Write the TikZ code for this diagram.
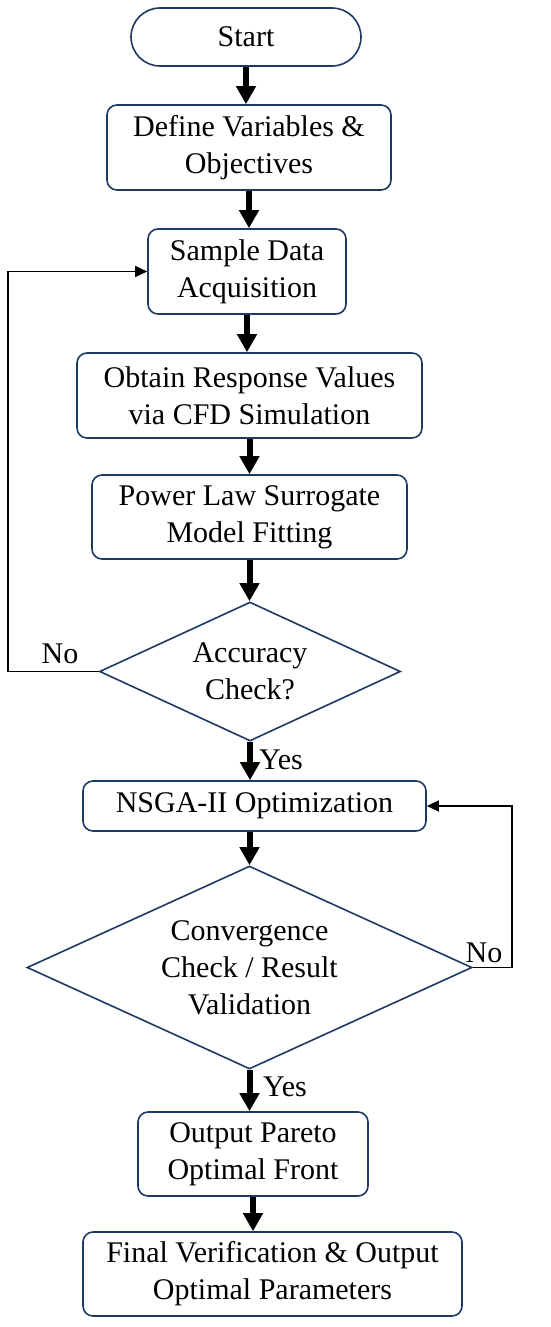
\documentclass[tikz,border=0pt]{standalone}
\usepackage{fontspec}
\setmainfont{Liberation Serif}
\usetikzlibrary{shapes.geometric,arrows.meta}
\definecolor{navy}{HTML}{1F3864}
\begin{document}
\begin{tikzpicture}[x=1pt,y=-1pt, font=\fontsize{30}{37}\selectfont,
 box/.style={draw=navy, line width=1.6pt, rounded corners=10pt, align=center, inner sep=0pt},
 dec/.style={draw=navy, line width=1.6pt, shape=diamond, align=center, inner sep=0pt},
 big/.style={line width=6pt, -{Triangle[width=19pt,length=18pt]}},
 thin/.style={line width=1.3pt, -{Triangle[width=11pt,length=12pt]}}]
\useasboundingbox (0,0) rectangle (550,1327);
\node[box, rounded corners=29pt, minimum width=230pt, minimum height=58pt] (start) at (246,37) {Start};
\node[box, minimum width=284pt, minimum height=85pt] (def) at (249,147.5) {Define Variables \&\\Objectives};
\node[box, minimum width=198pt, minimum height=85pt] (sample) at (247,271.5) {Sample Data\\Acquisition};
\node[box, minimum width=345pt, minimum height=85pt] (obtain) at (249.5,395.5) {Obtain Response Values\\via CFD Simulation};
\node[box, minimum width=315pt, minimum height=84pt] (power) at (249.5,517) {Power Law Surrogate\\Model Fitting};
\node[dec, shape aspect=2.17, minimum width=301pt, minimum height=139pt] (acc) at (250,671.5) {Accuracy\\Check?};
\node[box, minimum width=343pt, minimum height=50pt] (nsga) at (254.5,806) {NSGA-II Optimization};
\node[dec, shape aspect=2.19, minimum width=445pt, minimum height=203pt] (conv) at (249.5,967.5) {Convergence\\Check / Result\\Validation};
\node[box, minimum width=230pt, minimum height=84pt] (out) at (253,1154) {Output Pareto\\Optimal Front};
\node[box, minimum width=379pt, minimum height=84pt] (fin) at (272.5,1274) {Final Verification \& Output\\Optimal Parameters};
\node (yes1) at (281,760) {Yes};
\node (yes2) at (285,1087) {Yes};
\node (no1) at (60,654) {No};
\node (no2) at (484,953) {No};
\draw[big] (start.south) -- (start.south |- def.north);
\draw[big] (def.south) -- (def.south |- sample.north);
\draw[big] (sample.south) -- (sample.south |- obtain.north);
\draw[big] (obtain.south) -- (obtain.south |- power.north);
\draw[big] (power.south) -- (power.south |- acc.north);
\draw[big] (acc.south) -- (acc.south |- nsga.north);
\draw[big] (conv.north |- nsga.south) -- (conv.north);
\draw[big] (conv.south) -- (conv.south |- out.north);
\draw[big] (out.south) -- (out.south |- fin.north);
\coordinate (l1) at (8,671.5);
\draw[thin] (acc.west) -- (l1) |- (sample.west);
\coordinate (r1) at (512,967.5);
\draw[thin] (conv.east) -- (r1) |- (nsga.east);
\end{tikzpicture}
\end{document}
